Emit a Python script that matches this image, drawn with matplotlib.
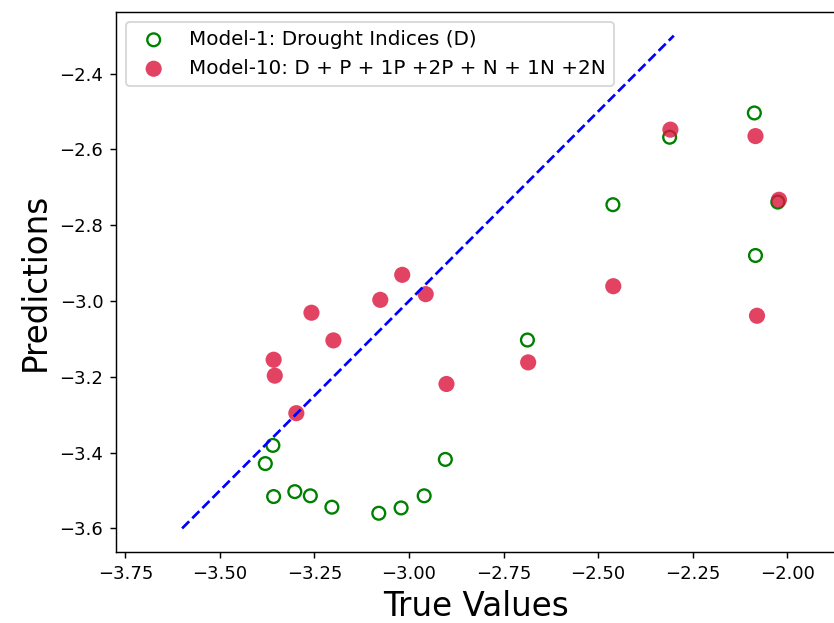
import numpy as np
import matplotlib.pyplot as plt

# model 1 (drought indices only)
true_m1 = [-3.380, -3.360, -3.358, -3.302, -3.261, -3.204, -3.080, -3.021, -2.960, -2.904,
           -2.687, -2.461, -2.311, -2.087, -2.084, -2.025]
pred_m1 = [-3.429, -3.381, -3.516, -3.503, -3.514, -3.544, -3.560, -3.546, -3.514, -3.418,
           -3.103, -2.746, -2.568, -2.504, -2.880, -2.739]

# model 10 (all predictors)
true_m10 = [-3.358, -3.355, -3.298, -3.258, -3.200, -3.076, -3.018, -2.956, -2.901,
            -2.685, -2.460, -2.309, -2.084, -2.080, -2.022]
pred_m10 = [-3.155, -3.197, -3.296, -3.031, -3.104, -2.997, -2.931, -2.982, -3.219,
            -3.162, -2.961, -2.548, -2.565, -3.039, -2.733]

line_ends = [-3.6, -2.3]

fig = plt.figure(figsize=(834 / 130, 623 / 130), dpi=130)
ax = fig.add_axes([0.139, 0.1135, 0.863, 0.867])

ax.scatter(true_m1, pred_m1, s=50, facecolors='none', edgecolors='green',
           linewidths=1.3, label='Model-1: Drought Indices (D)')
ax.scatter(true_m10, pred_m10, s=80, color='crimson', alpha=0.8,
           edgecolors='none', label='Model-10: D + P + 1P +2P + N + 1N +2N')
ax.plot(line_ends, line_ends, '--', color='blue', lw=1.5)

ax.set_xlim(-3.775, -1.872)
ax.set_ylim(-3.663, -2.238)
ax.set_xticks(np.arange(-3.75, -1.99, 0.25))
ax.set_yticks([-3.6, -3.4, -3.2, -3.0, -2.8, -2.6, -2.4])
ax.set_xlabel('True Values', fontsize=18)
ax.set_ylabel('Predictions', fontsize=18)
ax.legend(loc='upper left', fontsize=11)

fig.savefig('out.png', dpi=130)
